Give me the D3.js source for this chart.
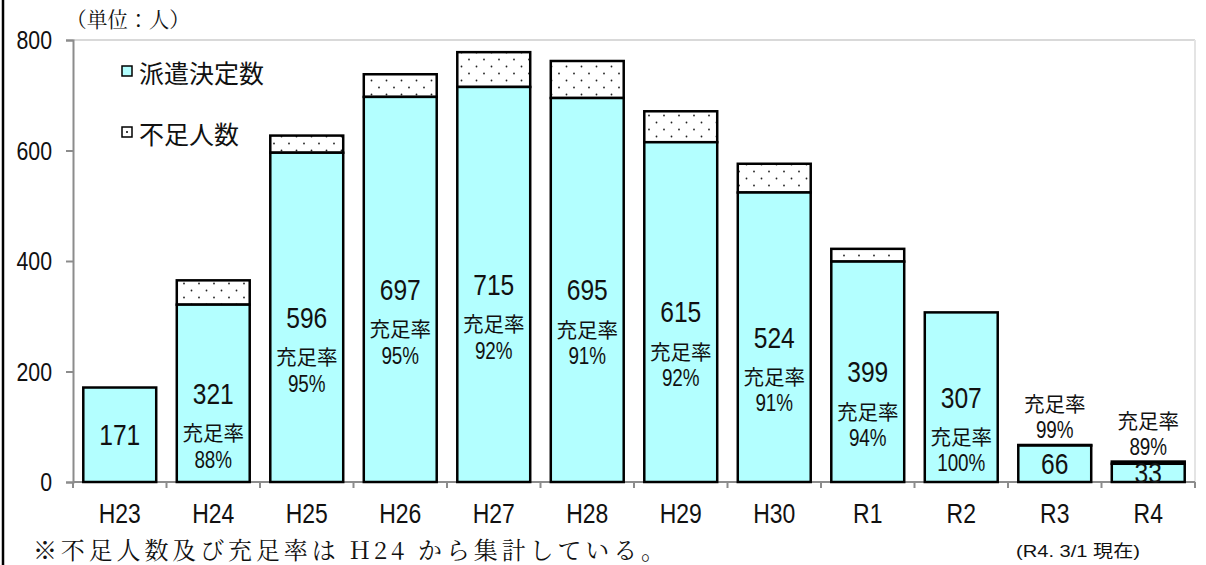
<!DOCTYPE html>
<meta charset="utf-8">
<html>
<head>
<style>
  body { margin: 0; background: #fff; }
  text { fill: #111; }
</style>
</head>
<body>
<div id="chart"></div>
<script src="https://d3js.org/d3.v7.min.js"></script>
<script>

  // data
  var years = ["H23", "H24", "H25", "H26", "H27", "H28", "H29", "H30", "R1", "R2", "R3", "R4"];
  var dispatched = [171, 321, 596, 697, 715, 695, 615, 524, 399, 307, 66, 33];
  var shortage = [0, 44, 31, 41, 63, 67, 56, 52, 23, 0, 1, 4];
  var rates = [null, "88%", "95%", "95%", "92%", "91%", "92%", "91%", "94%", "100%", "99%", "89%"];
  var yTicks = [0, 200, 400, 600, 800];

  var SANS = "'Liberation Sans', Arial, 'Noto Sans CJK JP', sans-serif";
  var CJK = "'Noto Sans CJK JP', sans-serif";
  var SERIF = "'Noto Serif CJK JP', 'Liberation Serif', " + CJK;
  var CYAN = "#b3ffff";
  var SQ = 0.82; // horizontal squeeze for the narrow digits

  var W = 1206, H = 565;
  var mLeft = 73, mRight = 1195, mTop = 40, mBottom = 482;

  var svg = d3.select("#chart")
    .append("svg")
      .attr("width", W)
      .attr("height", H);

  // narrow-looking text: regular font squeezed sideways
  function narrow(g, cx, cy, size, txt, anchor) {
    return g.append("text")
      .attr("transform", "translate(" + cx + "," + cy + ") scale(" + SQ + ",1)")
      .attr("text-anchor", anchor || "middle")
      .attr("dominant-baseline", "central")
      .style("font-family", SANS)
      .style("font-size", size + "px")
      .text(txt);
  }

  // dotted fill for the shortage part
  var pat = svg.append("defs").append("pattern")
    .attr("id", "dots")
    .attr("patternUnits", "userSpaceOnUse")
    .attr("width", 15)
    .attr("height", 14);
  pat.append("rect").attr("width", 15).attr("height", 14).attr("fill", "#fff");
  pat.append("circle").attr("cx", 4).attr("cy", 3.5).attr("r", 0.9).attr("fill", "#222");
  pat.append("circle").attr("cx", 11.5).attr("cy", 10.5).attr("r", 0.9).attr("fill", "#222");

  var x = d3.scaleBand()
    .domain(years)
    .range([mLeft, mRight])
    .paddingInner(0.22)
    .paddingOuter(0.11);

  var y = d3.scaleLinear()
    .domain([0, 800])
    .range([mBottom, mTop]);

  // frame: left black line, light top/right border
  svg.append("line")
    .attr("x1", 3).attr("x2", 3).attr("y1", 0).attr("y2", H)
    .attr("stroke", "#000").attr("stroke-width", 2.5);
  svg.append("line")
    .attr("x1", mLeft).attr("x2", mRight).attr("y1", mTop).attr("y2", mTop)
    .attr("stroke", "#cccccc").attr("stroke-width", 1.5);
  svg.append("line")
    .attr("x1", mRight).attr("x2", mRight).attr("y1", mTop).attr("y2", mBottom)
    .attr("stroke", "#e4e4e4").attr("stroke-width", 2);

  // Y axis
  var yAxis = svg.append("g")
    .attr("transform", "translate(" + mLeft + ",0)")
    .call(d3.axisLeft(y).tickValues(yTicks).tickSizeOuter(0).tickSize(7).tickFormat(""));
  yAxis.select(".domain").attr("stroke", "#8c8c8c").attr("stroke-width", 2);
  yAxis.selectAll(".tick line").attr("stroke", "#8c8c8c").attr("stroke-width", 2);
  yTicks.forEach(function(t) {
    narrow(svg, mLeft - 21, y(t), 26, t, "end");
  });

  // X axis: ticks between categories
  var xAxis = svg.append("g");
  xAxis.append("line")
    .attr("x1", mLeft).attr("x2", mRight).attr("y1", mBottom).attr("y2", mBottom)
    .attr("stroke", "#8c8c8c").attr("stroke-width", 2);
  xAxis.selectAll(".xt")
    .data(d3.range(years.length + 1))
    .enter().append("line")
      .attr("x1", function(i) { return mLeft + i * x.step(); })
      .attr("x2", function(i) { return mLeft + i * x.step(); })
      .attr("y1", mBottom)
      .attr("y2", mBottom + 6)
      .attr("stroke", "#8c8c8c").attr("stroke-width", 2);
  years.forEach(function(d) {
    narrow(xAxis, x(d) + x.bandwidth() / 2, 513, 28, d);
  });

  var rows = years.map(function(d, i) {
    return { year: d, v: dispatched[i], s: shortage[i], rate: rates[i] };
  });

  var bars = svg.append("g");

  // shortage segment on top
  bars.selectAll(".short")
    .data(rows.filter(function(d) { return d.s > 0; }))
    .enter().append("rect")
      .attr("x", function(d) { return x(d.year); })
      .attr("width", x.bandwidth())
      .attr("y", function(d) { return y(d.v + d.s); })
      .attr("height", function(d) { return y(d.v) - y(d.v + d.s); })
      .attr("fill", "url(#dots)")
      .attr("stroke", "#000").attr("stroke-width", 2.5);

  // dispatched segment
  bars.selectAll(".disp")
    .data(rows)
    .enter().append("rect")
      .attr("x", function(d) { return x(d.year); })
      .attr("width", x.bandwidth())
      .attr("y", function(d) { return y(d.v); })
      .attr("height", function(d) { return y(0) - y(d.v); })
      .attr("fill", CYAN)
      .attr("stroke", "#000").attr("stroke-width", 2.5);

  // labels: value in the middle of the bar, rate below it (or above short bars)
  var labels = svg.append("g");
  rows.forEach(function(d) {
    var cx = x(d.year) + x.bandwidth() / 2;
    var mid = y(d.v / 2);
    var tall = y(0) - y(d.v) > 60;
    narrow(labels, cx, mid, 30, d.v);
    if (!d.rate) return;
    var y1, y2;
    if (tall) { y1 = mid + 39; y2 = mid + 66; }
    else { var t = y(d.v + d.s); y1 = t - 42; y2 = t - 15; }
    labels.append("text")
      .attr("x", cx).attr("y", y1)
      .attr("text-anchor", "middle").attr("dominant-baseline", "central")
      .style("font-family", CJK).style("font-size", "20.5px")
      .text("充足率");
    narrow(labels, cx, y2, 23, d.rate);
  });

  // legend
  var legend = svg.append("g");
  legend.append("rect")
    .attr("x", 122).attr("y", 66).attr("width", 10).attr("height", 10)
    .attr("fill", CYAN).attr("stroke", "#000").attr("stroke-width", 1.5);
  legend.append("text")
    .attr("x", 139).attr("y", 72).attr("dominant-baseline", "central")
    .style("font-family", CJK).style("font-size", "25px")
    .text("派遣決定数");
  legend.append("rect")
    .attr("x", 122).attr("y", 127).attr("width", 10).attr("height", 10)
    .attr("fill", "#fff").attr("stroke", "#000").attr("stroke-width", 1.5);
  legend.append("circle")
    .attr("cx", 127).attr("cy", 132).attr("r", 1).attr("fill", "#000");
  legend.append("text")
    .attr("x", 139).attr("y", 133).attr("dominant-baseline", "central")
    .style("font-family", CJK).style("font-size", "25px")
    .text("不足人数");

  // unit, note and date
  svg.append("text")
    .attr("x", 66).attr("y", 18).attr("dominant-baseline", "central")
    .attr("textLength", 124).attr("lengthAdjust", "spacingAndGlyphs")
    .style("font-family", SERIF).style("font-size", "21px")
    .text("（単位：人）");
  svg.append("text")
    .attr("x", 33).attr("y", 548).attr("dominant-baseline", "central")
    .attr("textLength", 632).attr("lengthAdjust", "spacing")
    .style("font-family", SERIF).style("font-size", "24px")
    .text("※不足人数及び充足率は H24 から集計している。");
  svg.append("text")
    .attr("x", 1016).attr("y", 551).attr("dominant-baseline", "central")
    .attr("textLength", 124).attr("lengthAdjust", "spacingAndGlyphs")
    .style("font-family", SANS).style("font-size", "17px")
    .text("(R4. 3/1 現在)");

</script>
</body>
</html>
